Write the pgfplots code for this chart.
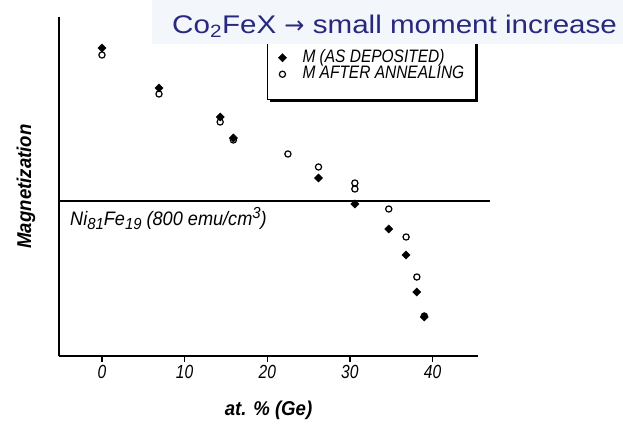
\documentclass[border=0pt]{standalone}
\usepackage{fontspec}
\setmainfont{Liberation Sans}
\newfontfamily\cond{Liberation Sans}[FakeStretch=0.93]
\newfontfamily\condT{Liberation Sans}[FakeStretch=0.82]
\newfontfamily\condL{Liberation Sans}[FakeStretch=0.86]
\newfontfamily\wide{Liberation Sans}[FakeStretch=1.16]
\newfontfamily\dejavu{DejaVu Sans}
\usepackage{pgfplots}
\pgfplotsset{compat=1.18}
\usetikzlibrary{shadows}
\definecolor{titlebg}{HTML}{F3F6FA}
\definecolor{titlefg}{HTML}{28287F}
\begin{document}
\begin{tikzpicture}
\useasboundingbox (-59pt,-67pt) rectangle (564pt,356pt);
\begin{axis}[
 scale only axis, width=419pt, height=339pt,
 xmin=-5.2, xmax=45.5, ymin=0, ymax=339,
 axis x line*=bottom, axis y line*=left,
 axis line style={line width=2.2pt, -},
 xtick={0,10,20,30,40}, ytick=\empty,
 tick align=outside, major tick length=6pt,
 every tick/.append style={black, line width=1.2pt},
 xticklabel style={font=\condT\itshape\fontsize{19}{19}\selectfont},
 /pgf/number format/assume math mode=true,
 xlabel={at. \% (Ge)},
 ylabel={Magnetization},
 every axis x label/.style={at={(axis description cs:0.5,-0.159)}, anchor=center, font=\cond\bfseries\itshape\fontsize{20}{20}\selectfont},
 every axis y label/.style={at={(axis description cs:-0.0788,0.5)}, rotate=90, anchor=center, font=\cond\bfseries\itshape\fontsize{20}{20}\selectfont},
 clip=false,
 legend style={at={(axis cs:19.95,256)}, anchor=south west, draw=black, line width=1pt, fill=white,
   drop shadow={shadow xshift=2.5pt, shadow yshift=-2.5pt, fill=black, opacity=1},
   inner xsep=11pt, inner ysep=17pt, font=\condL\itshape\fontsize{18}{18}\selectfont,
   row sep=0pt, nodes={inner sep=0pt, text height=13pt, text depth=3.5pt},
   /tikz/every odd column/.append style={column sep=16pt}},
 legend image code/.code={\draw[#1] plot coordinates {(0pt,0pt)};},
 legend cell align=left,
]
\addplot[black, line width=1.2pt, forget plot] coordinates {(-5.2,155) (46.9,155)};
\addplot[only marks, mark=square*, mark size=2.9pt, mark options={rotate=45, fill=black, draw=black, line width=0.4pt}]
 coordinates {(0,308) (6.9,268) (14.3,239) (15.9,218) (26.2,178) (30.6,152) (34.7,127) (36.8,101) (38.1,64) (39.0,39)};
\addlegendentry{M (AS DEPOSITED)}
\addplot[only marks, mark=o, mark size=3.1pt, mark options={draw=black, line width=1.2pt}]
 coordinates {(0,301) (6.9,262) (14.3,234) (15.9,216) (22.5,202) (26.2,189) (30.6,173) (30.6,167) (34.7,147) (36.8,119) (38.1,79) (39.0,40)};
\addlegendentry{M AFTER ANNEALING}
\node[anchor=base west, inner sep=0pt, font=\cond\itshape\fontsize{19.5}{19.5}\selectfont] at (axis cs:-3.87,131)
 {Ni\raisebox{-4pt}{\fontsize{16}{16}\selectfont 81}Fe\raisebox{-4pt}{\fontsize{16}{16}\selectfont 19} (800 emu/cm\raisebox{7pt}{\fontsize{16}{16}\selectfont 3})};
\end{axis}
\fill[titlebg] (93pt,312pt) rectangle (564pt,356pt);
\node[anchor=base west, inner sep=0pt, text=titlefg, font=\wide\fontsize{25.5}{25.5}\selectfont] at (113pt,322pt) {Co\textsubscript{2}FeX {\dejavu\fontsize{24}{24}\selectfont →} small moment increase};
\end{tikzpicture}
\end{document}
